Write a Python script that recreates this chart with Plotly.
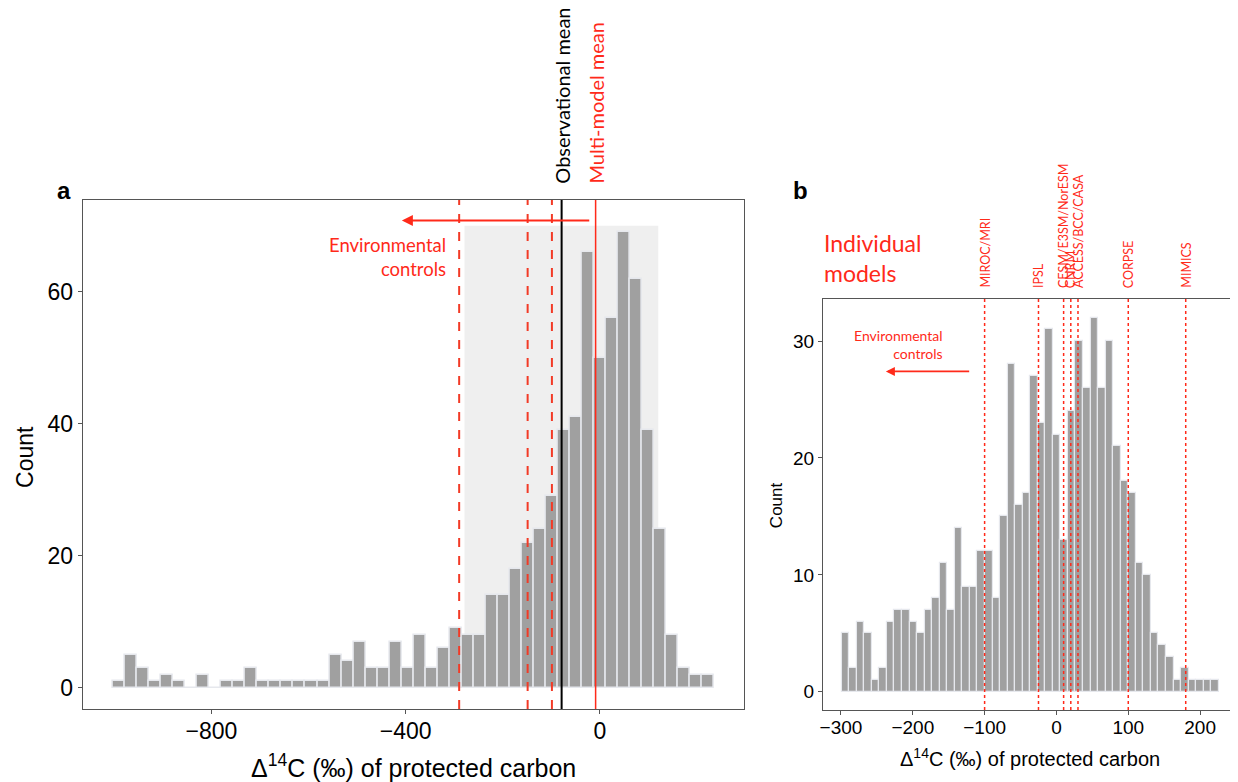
import plotly.graph_objects as go

# page body has an 8px margin, so the figure is drawn 8px smaller and shifted
OFF = 8
W, H = 1238 - OFF, 782 - OFF

# ---------------- Panel a data ----------------
a_bin_left = -1003.0
a_bin_width = 24.76
a_counts = [1, 5, 3, 1, 2, 1, 0, 2, 0, 1,
            1, 3, 1, 1, 1, 1, 1, 1, 5, 4,
            7, 3, 3, 7, 3, 8, 3, 6, 9, 8,
            8, 14, 14, 18, 22, 24, 29, 39, 41, 66,
            50, 56, 69, 62, 39, 24, 8, 3, 2, 2]
a_env_lines = [-290, -149, -99]
a_obs_mean = -79
a_model_mean = -9
a_shade = [-279, 120, 0, 70]
a_xticks = [-800, -400, 0]
a_yticks = [0, 20, 40, 60]

# ---------------- Panel b data ----------------
b_bin_left = -299.0
b_bin_width = 10.5
b_counts = [5, 2, 6, 5, 1, 2, 6, 7, 7, 6,
            5, 7, 8, 11, 7, 14, 9, 9, 12, 12,
            8, 15, 28, 16, 17, 27, 23, 31, 22, 13,
            24, 30, 26, 32, 26, 30, 21, 18, 17, 11,
            10, 5, 4, 3, 1, 2, 1, 1, 1, 1]
b_models = ["MIROC/MRI", "IPSL", "CESM/E3SM/NorESM", "CNRM", "ACCESS/BCC/CASA", "CORPSE", "MIMICS"]
b_model_x = [-100, -25, 10, 20, 30, 100, 180]
b_xticks = [-300, -200, -100, 0, 100, 200]
b_yticks = [0, 10, 20, 30]

RED = "#ff2a1a"
DRED = "#f23a26"
BAR = "#a0a0a0"
BAR_EDGE = "#e6e8ed"
AX = "#555555"
TICKFONT = "Liberation Sans, Arial, sans-serif"
ANNFONT = "Lato, Open Sans, sans-serif"


def px(x):
    return (x - OFF) / W


def py(y):
    return 1 - (y - OFF) / H


a_centers = [a_bin_left + a_bin_width * (i + 0.5) for i in range(len(a_counts))]
b_centers = [b_bin_left + b_bin_width * (i + 0.5) for i in range(len(b_counts))]

fig = go.Figure()
fig.add_trace(go.Bar(x=a_centers, y=a_counts, width=a_bin_width,
                     marker=dict(color=BAR, line=dict(color=BAR_EDGE, width=1.5)),
                     xaxis="x", yaxis="y", showlegend=False, hoverinfo="x+y"))
fig.add_trace(go.Bar(x=b_centers, y=b_counts, width=b_bin_width,
                     marker=dict(color=BAR, line=dict(color=BAR_EDGE, width=1.2)),
                     xaxis="x2", yaxis="y2", showlegend=False, hoverinfo="x+y"))

shapes = []
shapes.append(dict(type="rect", xref="x", yref="y", x0=a_shade[0], x1=a_shade[1],
                   y0=a_shade[2], y1=a_shade[3], fillcolor="#efefef",
                   line=dict(width=0), layer="below"))
for xv in a_env_lines:
    shapes.append(dict(type="line", xref="x", yref="y domain", x0=xv, x1=xv, y0=0, y1=1,
                       line=dict(color=DRED, width=2, dash="dash")))
shapes.append(dict(type="line", xref="x", yref="y domain", x0=a_obs_mean, x1=a_obs_mean,
                   y0=0, y1=1, line=dict(color="black", width=2)))
shapes.append(dict(type="line", xref="x", yref="y domain", x0=a_model_mean, x1=a_model_mean,
                   y0=0, y1=1, line=dict(color=RED, width=1.5)))
for xv in b_model_x:
    shapes.append(dict(type="line", xref="x2", yref="y2 domain", x0=xv, x1=xv, y0=0, y1=1,
                       line=dict(color=RED, width=1.5, dash="dot")))


def txt(text, x, y, size, color="black", family=ANNFONT, angle=0, xa="center", ya="middle",
        align="center", xref="paper"):
    return dict(text=text, x=x, y=y, xref=xref, yref="paper", textangle=angle,
                xanchor=xa, yanchor=ya, align=align, showarrow=False,
                font=dict(size=size, family=family, color=color))


ann = []
ann.append(txt("<b>a</b>", px(61), py(190), 24, family="Liberation Sans, Arial"))
ann.append(txt("<b>b</b>", px(799), py(191), 24, family="Liberation Sans, Arial"))
# panel a arrow + text
ann.append(dict(x=-408, y=70.8, ax=-19, ay=70.8, xref="x", yref="y", axref="x", ayref="y",
                showarrow=True, arrowhead=2, arrowsize=1.1, arrowwidth=2, arrowcolor=RED, text=""))
ann.append(txt("Environmental<br>controls", px(446), py(257), 18.5, RED, xa="right", align="right"))
ann.append(txt("Observational mean", px(560), py(186), 20, "black", angle=-90, ya="bottom"))
ann.append(txt("Multi-model mean", px(594), py(186), 20, RED, angle=-90, ya="bottom"))
# panel b texts
ann.append(txt("Individual<br>models", px(821), py(258), 23, RED, xa="left", align="left"))
for name, xv in zip(b_models, b_model_x):
    ann.append(txt(name, xv, py(290), 12.5, RED, angle=-90, ya="bottom", xref="x2"))
ann.append(txt("Environmental<br>controls", px(944), py(344), 14, RED, xa="right", align="right"))
ann.append(dict(x=-237.5, y=27.4, ax=-119.4, ay=27.4, xref="x2", yref="y2", axref="x2", ayref="y2",
                showarrow=True, arrowhead=2, arrowsize=1, arrowwidth=1.8, arrowcolor=RED, text=""))
# axis titles
ann.append(txt("Count", px(22), py(457), 23, family=TICKFONT, angle=-90))
ann.append(txt("Δ<sup>14</sup>C (‰) of protected carbon", px(411), py(766), 25, family=TICKFONT))
ann.append(txt("Count", px(775), py(505), 17, family=TICKFONT, angle=-90))
ann.append(txt("Δ<sup>14</sup>C (‰) of protected carbon", px(1029), py(757), 20, family=TICKFONT))

axis_common = dict(showgrid=False, zeroline=False, showline=True, linecolor=AX, linewidth=1.2,
                   mirror=True, ticks="outside", tickcolor=AX, ticklen=4, tickwidth=1.2)

fig.update_layout(
    width=W, height=H, margin=dict(l=0, r=0, t=0, b=0),
    paper_bgcolor="white", plot_bgcolor="white", bargap=0, barmode="overlay",
    shapes=shapes, annotations=ann, showlegend=False,
    xaxis=dict(domain=[px(80), px(743)], range=[-1065, 297], tickvals=a_xticks,
               ticklabelstandoff=-3,
               tickfont=dict(size=23, family=TICKFONT, color="black"), anchor="y", **axis_common),
    yaxis=dict(domain=[py(709), py(200)], range=[-3.2, 73.9], tickvals=a_yticks,
               tickfont=dict(size=23, family=TICKFONT, color="black"), anchor="x", **axis_common),
    xaxis2=dict(domain=[px(822), px(1236)], range=[-325, 250], tickvals=b_xticks,
                ticklabelstandoff=-4,
                tickfont=dict(size=19, family=TICKFONT, color="black"), anchor="y2", **axis_common),
    yaxis2=dict(domain=[py(710), py(299)], range=[-1.56, 33.6], tickvals=b_yticks,
                tickfont=dict(size=19, family=TICKFONT, color="black"), anchor="x2", **axis_common),
)

fig.write_html("out.html")
